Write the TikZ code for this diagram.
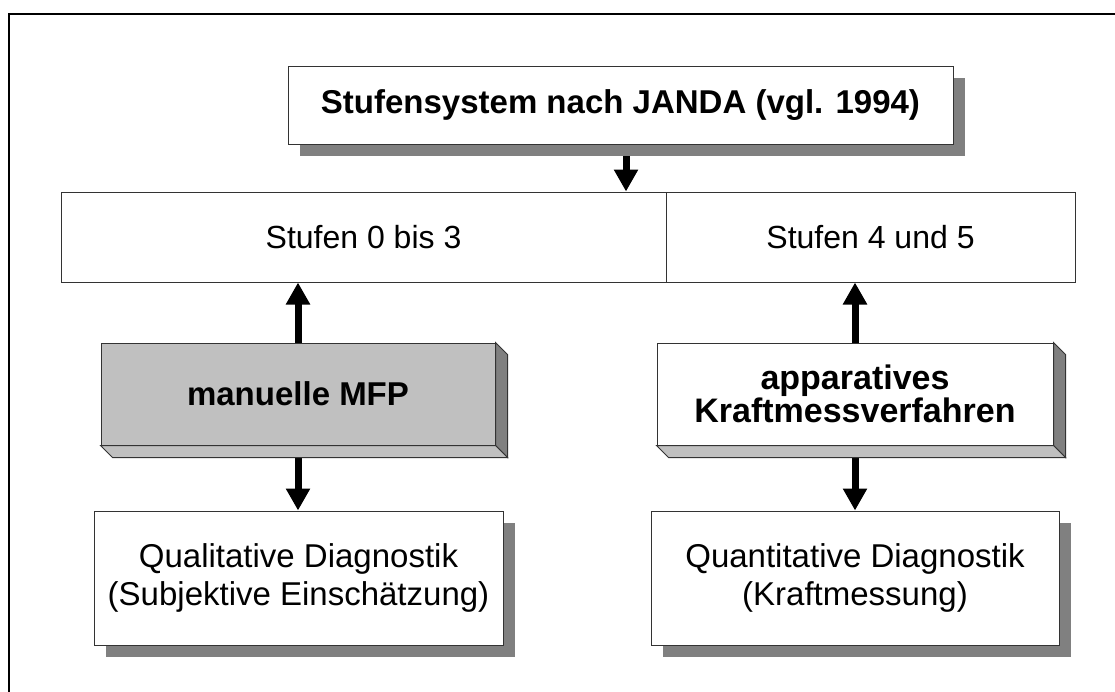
\documentclass[tikz,border=0pt]{standalone}
\usepackage{fontspec}
\setmainfont{Liberation Sans}
\usetikzlibrary{arrows.meta,shadows,calc}
\definecolor{shadowgray}{HTML}{808080}
\definecolor{facegray}{HTML}{C0C0C0}
\definecolor{edgegray}{HTML}{333333}
\pgfdeclarelayer{bg}
\pgfsetlayers{bg,main}
\tikzset{
  box/.style={draw=edgegray, line width=1pt, fill=white, inner sep=0pt,
    align=center, font=\fontsize{32}{37}\selectfont},
  shadowbox/.style={box, drop shadow={shadow xshift=12pt, shadow yshift=-12pt,
    fill=shadowgray, opacity=1}},
  boldtext/.style={font=\fontsize{33}{33}\selectfont\bfseries},
  face/.style={draw=edgegray, line width=1pt},
  arr/.style={line width=7pt, -{Triangle[width=23pt,length=22pt]}},
}
\begin{document}
\begin{tikzpicture}[x=1pt, y=-1pt]
  \clip (0,0) rectangle (1115,691);
  \begin{pgfonlayer}{bg}
    \fill[white] (0,0) rectangle (1115,691);
    % outer frame (continues past the right and bottom edges)
    \draw[line width=2pt] (8.5,13.5) rectangle (1140,720);
  \end{pgfonlayer}

  % heading
  \node[shadowbox, boldtext, minimum width=665pt, minimum height=78pt]
    (top) at (620.5,105) {Stufensystem nach JANDA (vgl. 1994)};

  % level groups
  \node[box, minimum width=605pt, minimum height=90pt]
    (midL) at (363.5,237) {Stufen 0 bis 3};
  \node[box, minimum width=409pt, minimum height=90pt]
    (midR) at (870.5,237) {Stufen 4 und 5};

  % raised method blocks
  \node[box, boldtext, fill=facegray, minimum width=394pt, minimum height=102pt]
    (manL) at (298,394) {manuelle MFP};
  \node[box, font=\fontsize{34}{33}\selectfont\bfseries,
    minimum width=396pt, minimum height=102pt]
    (manR) at (855,394) {apparatives\\Kraftmessverfahren};
  \foreach \b in {manL,manR}{
    \filldraw[face, fill=shadowgray] (\b.north east) -- ++(12,12)
      -- ($(\b.south east)+(12pt,-12pt)$) -- (\b.south east) -- cycle;
    \filldraw[face, fill=facegray] (\b.south west) -- ++(12,12)
      -- ($(\b.south east)+(12pt,-12pt)$) -- (\b.south east) -- cycle;
  }

  % diagnostics
  \node[shadowbox, font=\fontsize{33}{38}\selectfont,
    minimum width=409pt, minimum height=134pt]
    (botL) at (298.5,578) {Qualitative Diagnostik\\(Subjektive Einschätzung)};
  \node[shadowbox, font=\fontsize{33}{38}\selectfont,
    minimum width=408pt, minimum height=134pt]
    (botR) at (855,578) {Quantitative Diagnostik\\(Kraftmessung)};

  % connectors, kept behind the boxes
  \begin{pgfonlayer}{bg}
    \draw[arr] ([xshift=5.5pt]top.south) -- ([xshift=5.5pt]top.south |- midL.north);
    \draw[arr] (manL.north) -- (manL.north |- midL.south);
    \draw[arr] (manR.north) -- (manR.north |- midR.south);
    \draw[arr] (manL.south) -- (manL.south |- botL.north);
    \draw[arr] (manR.south) -- (manR.south |- botR.north);
  \end{pgfonlayer}
\end{tikzpicture}
\end{document}
